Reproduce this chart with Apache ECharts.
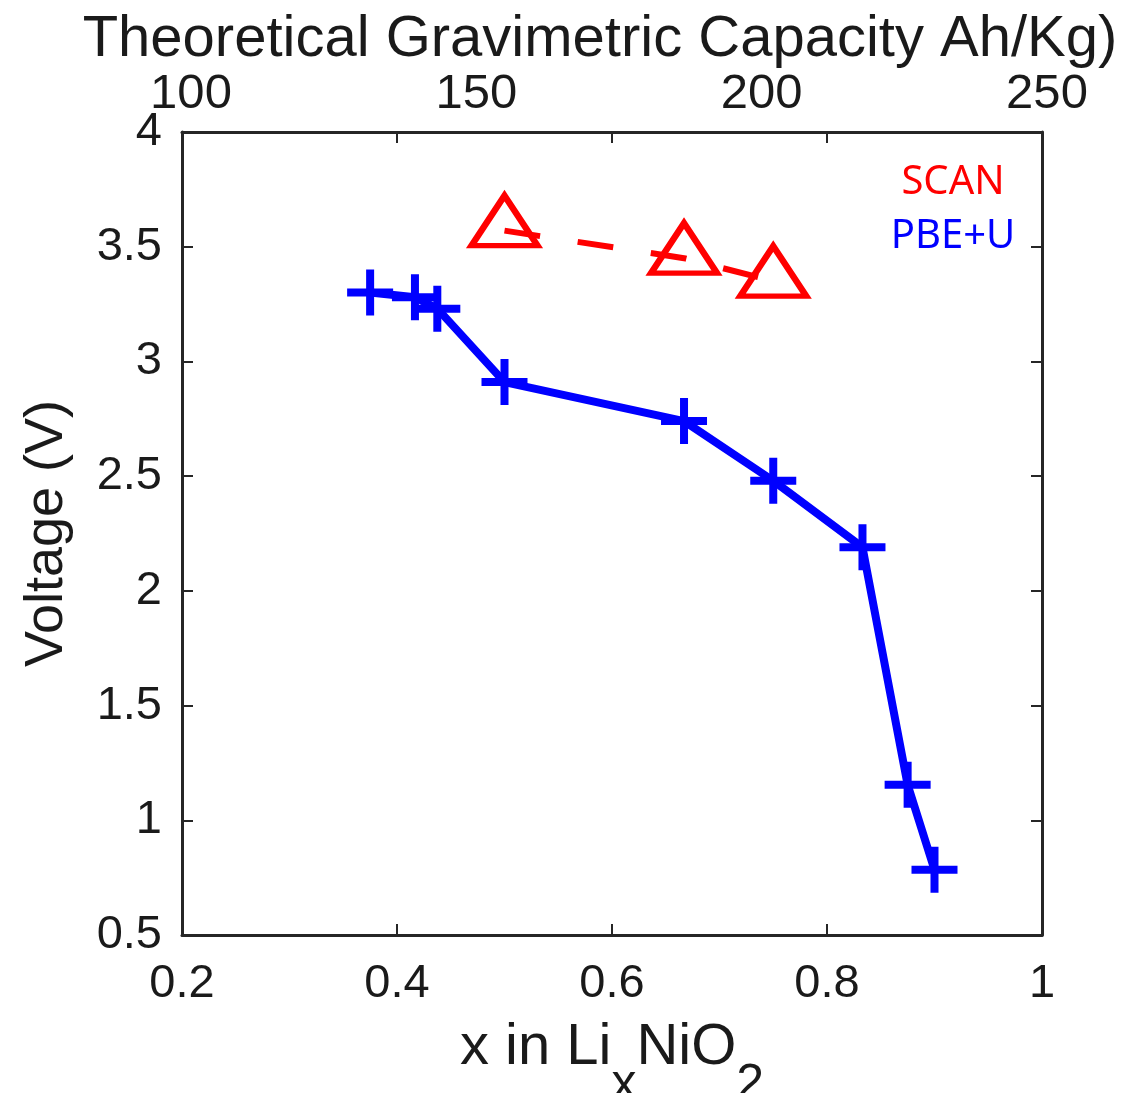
<!DOCTYPE html>
<html>
<head>
<meta charset="utf-8">
<script src="https://cdn.jsdelivr.net/npm/echarts@6/dist/echarts.min.js"></script>
<style>
  html, body { margin: 0; padding: 0; background: #fff; }
  #chart { width: 1122px; height: 1093px; }
</style>
</head>
<body>
<div id="chart"></div>
<script>
  // PBE+U voltages vs x in LixNiO2
  var pbeX = [0.375, 0.4167, 0.4375, 0.5, 0.667, 0.75, 0.833, 0.875, 0.9];
  var pbeV = [3.30, 3.28, 3.23, 2.91, 2.74, 2.48, 2.19, 1.155, 0.784];
  // SCAN voltages
  var scanX = [0.5, 0.667, 0.75];
  var scanV = [3.57, 3.45, 3.35];
  // top axis (capacity) tick labels
  var capTicks = [100, 150, 200, 250];

  var axisColor = '#262626';
  var font = 'Liberation Sans';

  // plus marker, drawn as a filled outline
  var plus = 'path://M19,0h8v19h19v8h-19v19h-8v-19h-19v-8h19z';

  function pairs(xs, ys) {
    return xs.map(function (x, i) { return [x, ys[i]]; });
  }

  var chart = echarts.init(document.getElementById('chart'));
  var option = {
    animation: false,
    backgroundColor: '#fff',
    textStyle: { fontFamily: font, color: '#1a1a1a' },
    title: {
      text: 'SCAN',
      subtext: 'PBE+U',
      left: 948,
      top: 158,
      textAlign: 'center',
      itemGap: 14,
      textStyle: { fontFamily: 'Noto Sans', fontWeight: 'normal', fontSize: 40, color: '#ff0000' },
      subtextStyle: { fontFamily: 'Noto Sans', fontSize: 40, color: '#0000ff' }
    },
    grid: [
      { left: 182, right: 80, top: 132, bottom: 158, outerBoundsMode: 'none' },
      { left: 191, right: 75, top: 132, bottom: 158, outerBoundsMode: 'none' }
    ],
    xAxis: [
      {
        gridIndex: 0, type: 'value', position: 'bottom',
        min: 0.2, max: 1, interval: 0.2,
        axisLine: { lineStyle: { color: axisColor, width: 3 } },
        axisTick: { inside: true, length: 11, lineStyle: { color: axisColor, width: 2 } },
        axisLabel: { fontSize: 47, margin: 26, color: '#1a1a1a' },
        splitLine: { show: false },
        name: '{n|x in Li}{s|x}{n|NiO}{s|2}',
        nameLocation: 'middle',
        nameGap: 83,
        nameMoveOverlap: false,
        nameTextStyle: {
          rich: {
            n: { fontSize: 58, fontFamily: font, color: '#1a1a1a', lineHeight: 60 },
            s: { fontSize: 50, fontFamily: font, color: '#1a1a1a', lineHeight: 50, padding: [74, 0, 0, 0] }
          }
        }
      },
      {
        gridIndex: 0, type: 'value', position: 'top',
        min: 0.2, max: 1, interval: 0.2,
        axisLine: { lineStyle: { color: axisColor, width: 3 } },
        axisTick: { inside: true, length: 11, lineStyle: { color: axisColor, width: 2 } },
        axisLabel: { show: false },
        splitLine: { show: false },
        name: 'Theoretical Gravimetric Capacity Ah/Kg)',
        nameLocation: 'middle',
        nameGap: 63,
        nameMoveOverlap: false,
        nameTextStyle: { fontSize: 58, color: '#1a1a1a', padding: [0, 24, 0, 0] }
      },
      {
        gridIndex: 1, type: 'value', position: 'top',
        min: capTicks[0], max: capTicks[capTicks.length - 1], interval: capTicks[1] - capTicks[0],
        axisLine: { show: false },
        axisTick: { show: false },
        axisLabel: { fontSize: 49, margin: 13, color: '#1a1a1a' },
        splitLine: { show: false }
      }
    ],
    yAxis: [
      {
        gridIndex: 0, type: 'value', position: 'left',
        min: 0.5, max: 4, interval: 0.5,
        axisLine: { lineStyle: { color: axisColor, width: 3 } },
        axisTick: { inside: true, length: 11, lineStyle: { color: axisColor, width: 2 } },
        axisLabel: { fontSize: 47, margin: 20, color: '#1a1a1a' },
        splitLine: { show: false },
        name: 'Voltage (V)',
        nameLocation: 'middle',
        nameGap: 108,
        nameMoveOverlap: false,
        nameTextStyle: { fontSize: 54, color: '#1a1a1a' }
      },
      {
        gridIndex: 0, type: 'value', position: 'right',
        min: 0.5, max: 4, interval: 0.5,
        axisLine: { lineStyle: { color: axisColor, width: 3 } },
        axisTick: { inside: true, length: 11, lineStyle: { color: axisColor, width: 2 } },
        axisLabel: { show: false },
        splitLine: { show: false }
      },
      {
        gridIndex: 1, type: 'value', show: false, min: 0, max: 1
      }
    ],
    series: [
      {
        name: 'PBE+U',
        type: 'line',
        xAxisIndex: 0, yAxisIndex: 0,
        data: pairs(pbeX, pbeV),
        symbol: plus,
        symbolSize: 46,
        itemStyle: { color: '#0000ff' },
        lineStyle: { color: '#0000ff', width: 8 },
        z: 2
      },
      {
        name: 'SCAN',
        type: 'line',
        xAxisIndex: 0, yAxisIndex: 0,
        data: pairs(scanX, scanV),
        symbol: 'triangle',
        symbolSize: [66, 50],
        symbolOffset: [0, -10],
        itemStyle: { color: 'rgba(255,0,0,0)', borderColor: '#ff0000', borderWidth: 6, borderJoin: 'miter' },
        lineStyle: { color: '#ff0000', width: 6, type: [36, 38], cap: 'butt' },
        z: 3
      }
    ]
  };
  chart.setOption(option);
</script>
</body>
</html>
